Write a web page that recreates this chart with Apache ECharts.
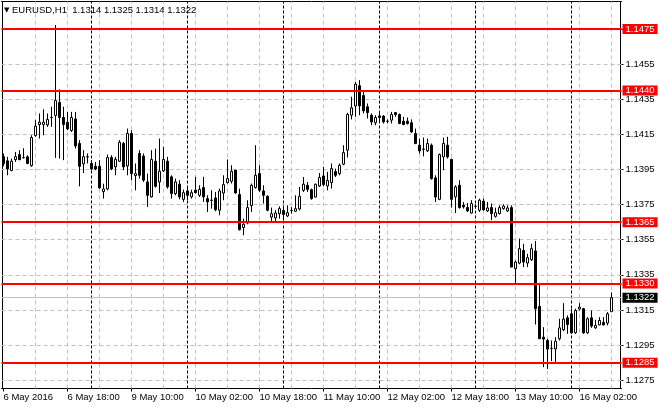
<!DOCTYPE html>
<html>
<head>
<meta charset="utf-8">
<script src="https://cdn.jsdelivr.net/npm/echarts@6/dist/echarts.min.js"></script>
<style>
  html, body { margin: 0; padding: 0; background: #fff; }
  #chart { width: 660px; height: 410px; }
</style>
</head>
<body>
<div id="chart"></div>
<script>
// ---------- DATA ----------
const symbolName = 'EURUSD,H1';
const yearLabel = '6 May 2016';
const days = ['6 May', '9 May', '10 May', '11 May', '12 May', '13 May', '16 May'];
const dayFirstHour = [2, 0, 0, 0, 0, 0, 0];
const dayLastHour = [23, 23, 23, 23, 23, 23, 10];

const opens = [
  1.14022,1.13999,1.13944,1.14006,1.14035,1.14018,1.14022,1.13972,1.14143,1.14206,
  1.14206,1.14204,1.14247,1.14257,1.14332,1.14246,1.14219,1.14172,1.14238,1.14098,
  1.13982,1.14022,1.13985,1.13968,1.13968,1.13824,1.13839,1.14018,1.13965,1.13997,
  1.14098,1.13970,1.14155,1.13915,1.14041,1.14026,1.13879,1.13794,1.13997,1.13879,
  1.13942,1.13997,1.13908,1.13813,1.13866,1.13780,1.13828,1.13794,1.13832,1.13803,
  1.13847,1.13784,1.13775,1.13788,1.13718,1.13816,1.13875,1.13883,1.13946,1.13807,
  1.13619,1.13645,1.13744,1.13847,1.13927,1.13828,1.13797,1.13679,1.13674,1.13698,
  1.13717,1.13685,1.13717,1.13712,1.13725,1.13831,1.13860,1.13835,1.13793,1.13856,
  1.13913,1.13856,1.13875,1.13938,1.13926,1.13980,1.14060,1.14259,1.14312,1.14427,
  1.14371,1.14307,1.14259,1.14216,1.14255,1.14254,1.14225,1.14231,1.14274,1.14263,
  1.14225,1.14225,1.14216,1.14155,1.14088,1.14066,1.14056,1.14088,1.13902,1.13780,
  1.14022,1.14088,1.14007,1.13794,1.13860,1.13746,1.13733,1.13702,1.13741,1.13718,
  1.13769,1.13714,1.13733,1.13683,1.13699,1.13727,1.13714,1.13733,1.13385,1.13417,
  1.13489,1.13417,1.13436,1.13486,1.13170,1.12995,1.12976,1.12932,1.12928,1.12986,
  1.13037,1.13105,1.13128,1.13020,1.13155,1.13157,1.13020,1.13105,1.13048,1.13065,
  1.13079,1.13075,1.1314
];
const highs = [
  1.14041,1.14022,1.14012,1.14050,1.14060,1.14071,1.14031,1.14145,1.14231,1.14269,
  1.14293,1.14269,1.14307,1.14773,1.14406,1.14307,1.14278,1.14278,1.14278,1.14117,
  1.14060,1.14041,1.14003,1.13993,1.14003,1.13869,1.14035,1.14031,1.14022,1.14117,
  1.14107,1.14183,1.14174,1.13984,1.14060,1.14041,1.13926,1.14060,1.14069,1.14126,
  1.14079,1.14022,1.13917,1.13898,1.13889,1.13835,1.13847,1.13835,1.13908,1.13860,
  1.13908,1.13803,1.13832,1.13822,1.13841,1.13917,1.14007,1.13974,1.13946,1.13841,
  1.13670,1.13775,1.13870,1.14088,1.13974,1.13860,1.13803,1.13733,1.13718,1.13740,
  1.13740,1.13746,1.13736,1.13803,1.13850,1.13907,1.13879,1.13841,1.13869,1.13930,
  1.13965,1.13936,1.13984,1.13955,1.13984,1.14088,1.14273,1.14364,1.14449,1.14459,
  1.14402,1.14326,1.14269,1.14259,1.14278,1.14259,1.14235,1.14278,1.14278,1.14269,
  1.14250,1.14246,1.14235,1.14183,1.14126,1.14132,1.14126,1.14098,1.13917,1.14041,
  1.14132,1.14136,1.14012,1.13860,1.13889,1.13765,1.13759,1.13775,1.13752,1.13784,
  1.13784,1.13765,1.13756,1.13733,1.13746,1.13752,1.13746,1.13746,1.13432,1.13556,
  1.13527,1.13470,1.13527,1.13543,1.13299,1.13052,1.12986,1.12976,1.12995,1.13100,
  1.13189,1.13119,1.13157,1.13157,1.13189,1.13162,1.13109,1.13147,1.13094,1.13109,
  1.13109,1.13138,1.1325
];
const lows = [
  1.13968,1.13917,1.13940,1.13993,1.14003,1.14012,1.13980,1.13965,1.14136,1.14126,
  1.14145,1.14193,1.14193,1.14016,1.14012,1.14003,1.14174,1.14164,1.14069,1.13854,
  1.13930,1.13984,1.13946,1.13946,1.13841,1.13784,1.13831,1.13946,1.13917,1.13993,
  1.13946,1.13917,1.13888,1.13831,1.13898,1.13879,1.13737,1.13790,1.13847,1.13816,
  1.13936,1.13841,1.13784,1.13803,1.13780,1.13765,1.13775,1.13784,1.13813,1.13794,
  1.13765,1.13708,1.13727,1.13712,1.13689,1.13775,1.13870,1.13870,1.13813,1.13603,
  1.13575,1.13638,1.13708,1.13841,1.13822,1.13756,1.13712,1.13651,1.13651,1.13670,
  1.13660,1.13679,1.13698,1.13708,1.13717,1.13822,1.13822,1.13778,1.13790,1.13850,
  1.13854,1.13831,1.13841,1.13907,1.13917,1.13974,1.14018,1.14235,1.14250,1.14259,
  1.14269,1.14240,1.14202,1.14202,1.14221,1.14212,1.14212,1.14212,1.14250,1.14208,
  1.14202,1.14206,1.14158,1.14094,1.14041,1.14025,1.14050,1.13892,1.13765,1.13775,
  1.13946,1.14012,1.13733,1.13702,1.13727,1.13727,1.13708,1.13699,1.13727,1.13708,
  1.13714,1.13708,1.13661,1.13676,1.13693,1.13721,1.13708,1.13394,1.13299,1.13410,
  1.13394,1.13394,1.13429,1.13067,1.12986,1.12824,1.12814,1.12858,1.12852,1.12976,
  1.13029,1.13014,1.13014,1.13014,1.13147,1.13014,1.13014,1.13048,1.13043,1.13062,
  1.13062,1.13062,1.1314
];
const closes = [
  1.13984,1.13953,1.13997,1.14023,1.14006,1.14017,1.13984,1.14132,1.14197,1.14219,
  1.14219,1.14235,1.14246,1.14343,1.14246,1.14206,1.14181,1.14246,1.14084,1.13968,
  1.14023,1.14021,1.13953,1.13953,1.13845,1.13839,1.14018,1.13953,1.14008,1.14105,
  1.13965,1.14155,1.13926,1.13926,1.13917,1.13889,1.13803,1.14007,1.13854,1.13940,
  1.14007,1.13851,1.13813,1.13879,1.13794,1.13818,1.13803,1.13818,1.13818,1.13837,
  1.13794,1.13765,1.13774,1.13721,1.13828,1.13864,1.13898,1.13940,1.13816,1.13607,
  1.13638,1.13733,1.13860,1.13917,1.13832,1.13803,1.13718,1.13698,1.13702,1.13727,
  1.13694,1.13704,1.13716,1.13727,1.13797,1.13866,1.13837,1.13784,1.13866,1.13904,
  1.13864,1.13888,1.13955,1.13917,1.13974,1.14046,1.14263,1.14301,1.14436,1.14312,
  1.14284,1.14274,1.14221,1.14246,1.14246,1.14221,1.14224,1.14263,1.14263,1.14212,
  1.14206,1.14212,1.14164,1.14098,1.14056,1.14065,1.14098,1.13898,1.13793,1.14035,
  1.14098,1.14022,1.13780,1.13851,1.13733,1.13737,1.13714,1.13756,1.13740,1.13775,
  1.13721,1.13731,1.13699,1.13704,1.13733,1.13742,1.13731,1.13394,1.13423,1.13499,
  1.13423,1.13448,1.13499,1.13157,1.12986,1.12984,1.12927,1.12931,1.12972,1.13048,
  1.13098,1.13067,1.13020,1.13147,1.13166,1.13020,1.13100,1.13058,1.13062,1.13090,
  1.13065,1.13128,1.1322
];

const levels = [1.1475, 1.1440, 1.1365, 1.1330, 1.1285];
const yTicks = [1.1475, 1.1455, 1.1435, 1.1415, 1.1395, 1.1375, 1.1355, 1.1335, 1.1315, 1.1295, 1.1275];

// ---------- BUILD ----------
const pad2 = n => (n < 10 ? '0' : '') + n;
const categories = [];
days.forEach((d, k) => {
  for (let h = dayFirstHour[k]; h <= dayLastHour[k]; h++) categories.push(d + ' ' + pad2(h) + ':00');
});
const nBars = categories.length;
const axisCats = categories.concat(['', ' ']); // empty right margin

const candleData = opens.map((o, i) => [o, closes[i], lows[i], highs[i]]);
const last = nBars - 1;
const lastClose = closes[last];

const gridV = [];
const sepV = [];
categories.forEach((c, i) => {
  if (i > 0 && i % 8 === 0) gridV.push({ xAxis: c });
  if (c.endsWith(' 00:00')) sepV.push({ xAxis: c });
});

const FONT = 'Liberation Sans';
const labelEvery = (i) => i < nBars && i % 16 === 0;

const titleText = '{tri|\u25BC} ' + symbolName + '  ' +
  [opens[last], highs[last], lows[last], closes[last]].map(v => v.toFixed(4)).join(' ');

const chart = echarts.init(document.getElementById('chart'), null, { renderer: 'canvas' });
chart.setOption({
  animation: false,
  backgroundColor: '#ffffff',
  textStyle: { fontFamily: FONT },
  title: {
    text: titleText,
    left: 4, top: 5, padding: 0,
    textStyle: {
      fontSize: 9.5, fontWeight: 'normal', color: '#000', fontFamily: FONT,
      rich: { tri: { fontFamily: 'DejaVu Sans', fontSize: 7, color: '#000' } }
    }
  },
  grid: { left: 1.5, top: 1.5, right: 38.5, bottom: 21.5, containLabel: false },
  xAxis: [{
    type: 'category',
    data: axisCats,
    boundaryGap: true,
    position: 'bottom',
    axisLine: { show: true, lineStyle: { color: '#000', width: 1 } },
    axisTick: { show: true, alignWithLabel: true, interval: labelEvery, length: 3, lineStyle: { color: '#000' } },
    axisLabel: {
      show: true, interval: labelEvery, align: 'left', margin: 4,
      fontSize: 9.5, color: '#000', fontFamily: FONT,
      formatter: (v, i) => (i === 0 ? yearLabel : v)
    },
    splitLine: { show: false }
  }, {
    type: 'value', position: 'top', min: 0, max: 1,
    axisLine: { show: true, onZero: false, lineStyle: { color: '#000', width: 1 } },
    axisTick: { show: false }, axisLabel: { show: false }, splitLine: { show: false }
  }],
  yAxis: [{
    type: 'value',
    position: 'right',
    offset: -1,
    min: 1.127027, max: 1.149066,
    axisLine: { show: true, onZero: false, lineStyle: { color: '#000', width: 1 } },
    axisTick: { show: true, customValues: yTicks, length: 3, lineStyle: { color: '#000' } },
    axisLabel: {
      show: true, customValues: yTicks, margin: 5, align: 'left',
      fontSize: 9.5, color: '#000', fontFamily: FONT,
      formatter: v => Number(v).toFixed(4)
    },
    splitLine: { show: false }
  }, {
    type: 'value',
    position: 'left',
    offset: -1,
    min: 1.127027, max: 1.149066,
    axisLine: { show: true, onZero: false, lineStyle: { color: '#000', width: 1 } },
    axisTick: { show: false }, axisLabel: { show: false }, splitLine: { show: false }
  }],
  series: [{
    // background grid
    type: 'line', data: [], xAxisIndex: 0, yAxisIndex: 0, silent: true, z: 1,
    markLine: {
      z: 1, silent: true, symbol: ['none', 'none'], animation: false, precision: 6,
      label: { show: false },
      lineStyle: { color: '#c0c0c0', width: 1, type: [4, 3] },
      emphasis: { disabled: true },
      data: yTicks.map(v => ({ yAxis: v })).concat(gridV)
    }
  }, {
    // day separators
    type: 'line', data: [], xAxisIndex: 0, yAxisIndex: 0, silent: true, z: 1,
    markLine: {
      z: 1, silent: true, symbol: ['none', 'none'], animation: false, precision: 6,
      label: { show: false },
      lineStyle: { color: '#000', width: 1, type: [3, 2] },
      emphasis: { disabled: true },
      data: sepV
    }
  }, {
    // bid line
    type: 'line', data: [], xAxisIndex: 0, yAxisIndex: 0, silent: true, z: 1,
    markLine: {
      z: 1, silent: true, symbol: ['none', 'none'], animation: false, precision: 6,
      lineStyle: { color: '#c0c0c0', width: 1, type: 'solid' },
      label: {
        show: true, position: 'end', distance: 1,
        formatter: p => Number(p.value).toFixed(4),
        color: '#fff', backgroundColor: '#000', padding: [0, 3, 0, 3],
        fontSize: 9.5, lineHeight: 10, fontFamily: FONT
      },
      emphasis: { disabled: true },
      data: [{ yAxis: lastClose }]
    }
  }, {
    type: 'candlestick',
    name: symbolName,
    data: candleData,
    xAxisIndex: 0, yAxisIndex: 0,
    barWidth: 2,
    z: 2,
    itemStyle: {
      color: '#ffffff', color0: '#000000',
      borderColor: '#000000', borderColor0: '#000000',
      borderWidth: 1
    },
    markLine: {
      silent: true, symbol: ['none', 'none'], animation: false, precision: 6,
      lineStyle: { color: '#ff0000', width: 2, type: 'solid' },
      label: {
        show: true, position: 'end', distance: 1,
        formatter: p => Number(p.value).toFixed(4),
        color: '#fff', backgroundColor: '#ff0000', padding: [0, 3, 0, 3],
        fontSize: 9.5, lineHeight: 10, fontFamily: FONT
      },
      emphasis: { disabled: true },
      data: levels.map(v => ({ yAxis: v }))
    }
  }]
});
</script>
</body>
</html>
